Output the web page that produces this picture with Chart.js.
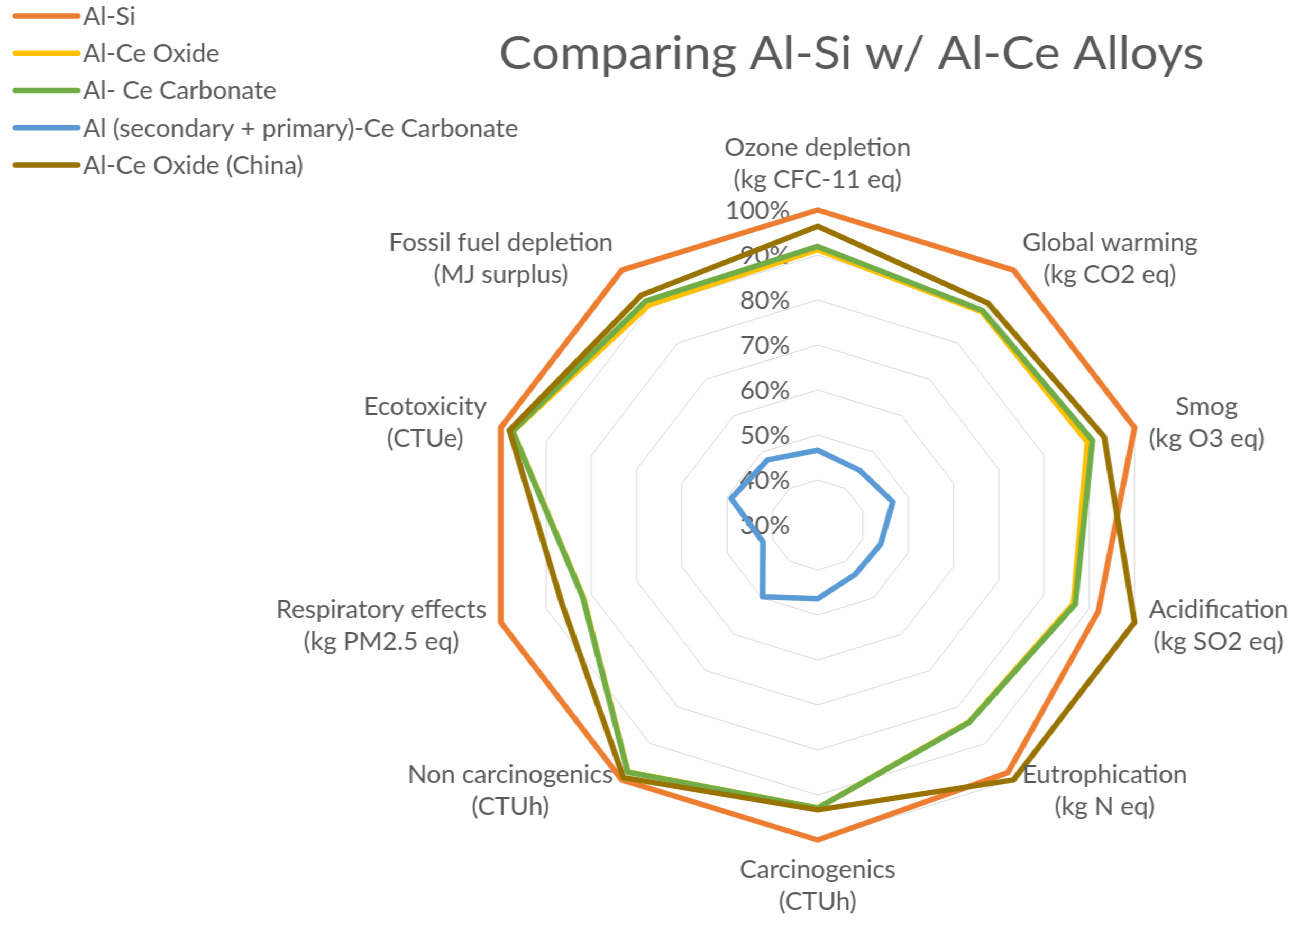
<!DOCTYPE html>
<html><head><meta charset="utf-8">
<script src="https://cdn.jsdelivr.net/npm/chart.js@4.4.1/dist/chart.umd.min.js"></script>
<style>
html,body{margin:0;padding:0;background:#fff;overflow:hidden;}
#wrap{width:1229px;height:926px;transform:scaleX(1.0578);transform-origin:0 0;background:#fff;}
canvas{display:block;}
</style></head><body>
<div id="wrap"><canvas id="c" width="1229" height="926" style="width:1229px;height:926px"></canvas></div>
<script>
const categories = [
  ['Ozone depletion', '(kg CFC-11 eq)'],
  ['Global warming', '(kg CO2 eq)'],
  ['Smog', '(kg O3 eq)'],
  ['Acidification', '(kg SO2 eq)'],
  ['Eutrophication', '(kg N eq)'],
  ['Carcinogenics', '(CTUh)'],
  ['Non carcinogenics', '(CTUh)'],
  ['Respiratory effects', '(kg PM2.5 eq)'],
  ['Ecotoxicity', '(CTUe)'],
  ['Fossil fuel depletion', '(MJ surplus)']
];
const seriesNames = ['Al-Si', 'Al-Ce Oxide', 'Al- Ce Carbonate', 'Al (secondary + primary)-Ce Carbonate', 'Al-Ce Oxide (China)'];
const alSi          = [100, 100, 100, 92, 98, 100, 100, 100, 100, 100];
const alCeOxide     = [91.2, 88.6, 89.6, 86.5, 84.1, 92.9, 97.8, 81.8, 97.3, 90.4];
const alCeCarbonate = [91.9, 88.9, 90.7, 86.9, 84.2, 92.9, 97.9, 81.9, 97.4, 91.5];
const alSecPrimCe   = [46.6, 45.0, 46.6, 43.9, 43.5, 46.4, 49.7, 42.1, 49.1, 47.9];
const alCeOxideChina= [96.4, 90.9, 93.3, 100, 100, 93.3, 99.4, 86.5, 98.1, 93.1];
const tickValues = [30, 40, 50, 60, 70, 80, 90, 100];
const tickLabels = ['30%', '40%', '50%', '60%', '70%', '80%', '90%', '100%'];
const titleText = 'Comparing Al-Si w/ Al-Ce Alloys';

const TEXT = '#595959';
const FAM = 'Lato, "Noto Sans", sans-serif';
const LABEL_SIZE = 24.2;
const LINE_H = 32;

const textPlugin = {
  id: 'excelText',
  beforeDatasetsDraw(chart) {
    const s = chart.scales.r, ctx = chart.ctx;
    ctx.save();
    ctx.font = LABEL_SIZE + 'px ' + FAM;
    ctx.fillStyle = TEXT; ctx.textAlign = 'right'; ctx.textBaseline = 'middle';
    tickValues.forEach((v, i) => {
      const y = s.yCenter - s.getDistanceFromCenterForValue(v);
      ctx.fillText(tickLabels[i], s.xCenter - 26, y + 1);
    });
    ctx.restore();
  },
  afterDraw(chart) {
    const s = chart.scales.r, ctx = chart.ctx;
    const n = chart.data.labels.length;
    ctx.save();
    ctx.fillStyle = TEXT; ctx.textAlign = 'center'; ctx.textBaseline = 'middle';
    ctx.font = LABEL_SIZE + 'px ' + FAM;
    chart.data.labels.forEach((lines, i) => {
      const p = s.getPointPosition(i, s.drawingArea + 14);
      const a = i * 2 * Math.PI / n;
      const sn = Math.sin(a), cs = Math.cos(a);
      const w = Math.max(...lines.map(l => ctx.measureText(l).width));
      const h = lines.length * LINE_H;
      let cx, top;
      if (Math.abs(sn) < 0.01) { cx = p.x; top = cs > 0 ? p.y - h : p.y; }
      else { cx = sn > 0 ? p.x + w / 2 : p.x - w / 2; top = p.y - h / 2; }
      lines.forEach((l, k) => ctx.fillText(l, cx, top + LINE_H * (k + 0.5)));
    });
    // title
    ctx.font = '47px ' + FAM;
    ctx.fillText(titleText, 805, 54);
    // legend
    ctx.textAlign = 'left';
    ctx.font = LABEL_SIZE + 'px ' + FAM;
    chart.data.datasets.forEach((ds, i) => {
      const y = 16 + 37.25 * i;
      ctx.strokeStyle = ds.borderColor; ctx.lineWidth = 5.5; ctx.lineCap = 'round';
      ctx.beginPath(); ctx.moveTo(14.5, y); ctx.lineTo(73.5, y); ctx.stroke();
      ctx.fillStyle = TEXT;
      ctx.fillText(ds.label, 78.5, y + 1);
    });
    ctx.restore();
  }
};

const common = { borderWidth: 5.5, pointRadius: 0, pointHoverRadius: 0, fill: false, backgroundColor: 'rgba(0,0,0,0)', borderJoinStyle: 'round' };
new Chart(document.getElementById('c'), {
  type: 'radar',
  data: {
    labels: categories,
    datasets: [
      Object.assign({ label: seriesNames[0], data: alSi, borderColor: '#ED7D31', order: 4 }, common),
      Object.assign({ label: seriesNames[1], data: alCeOxide, borderColor: '#FFC000', order: 3 }, common),
      Object.assign({ label: seriesNames[2], data: alCeCarbonate, borderColor: '#70AD47', order: 2 }, common),
      Object.assign({ label: seriesNames[3], data: alSecPrimCe, borderColor: '#5B9BD5', order: 1 }, common),
      Object.assign({ label: seriesNames[4], data: alCeOxideChina, borderColor: '#997300', order: 0 }, common)
    ]
  },
  options: {
    responsive: false, animation: false, devicePixelRatio: 1,
    layout: { padding: { left: 458, right: 141, top: 210, bottom: 86 } },
    plugins: { legend: { display: false }, title: { display: false }, tooltip: { enabled: false } },
    elements: { line: { tension: 0 } },
    scales: {
      r: {
        min: 30, max: 100, beginAtZero: false,
        ticks: { display: false, stepSize: 10 },
        grid: { color: '#D9D9D9', lineWidth: 1, circular: false },
        angleLines: { display: false },
        pointLabels: { display: false }
      }
    }
  },
  plugins: [textPlugin]
});
</script>
</body></html>
